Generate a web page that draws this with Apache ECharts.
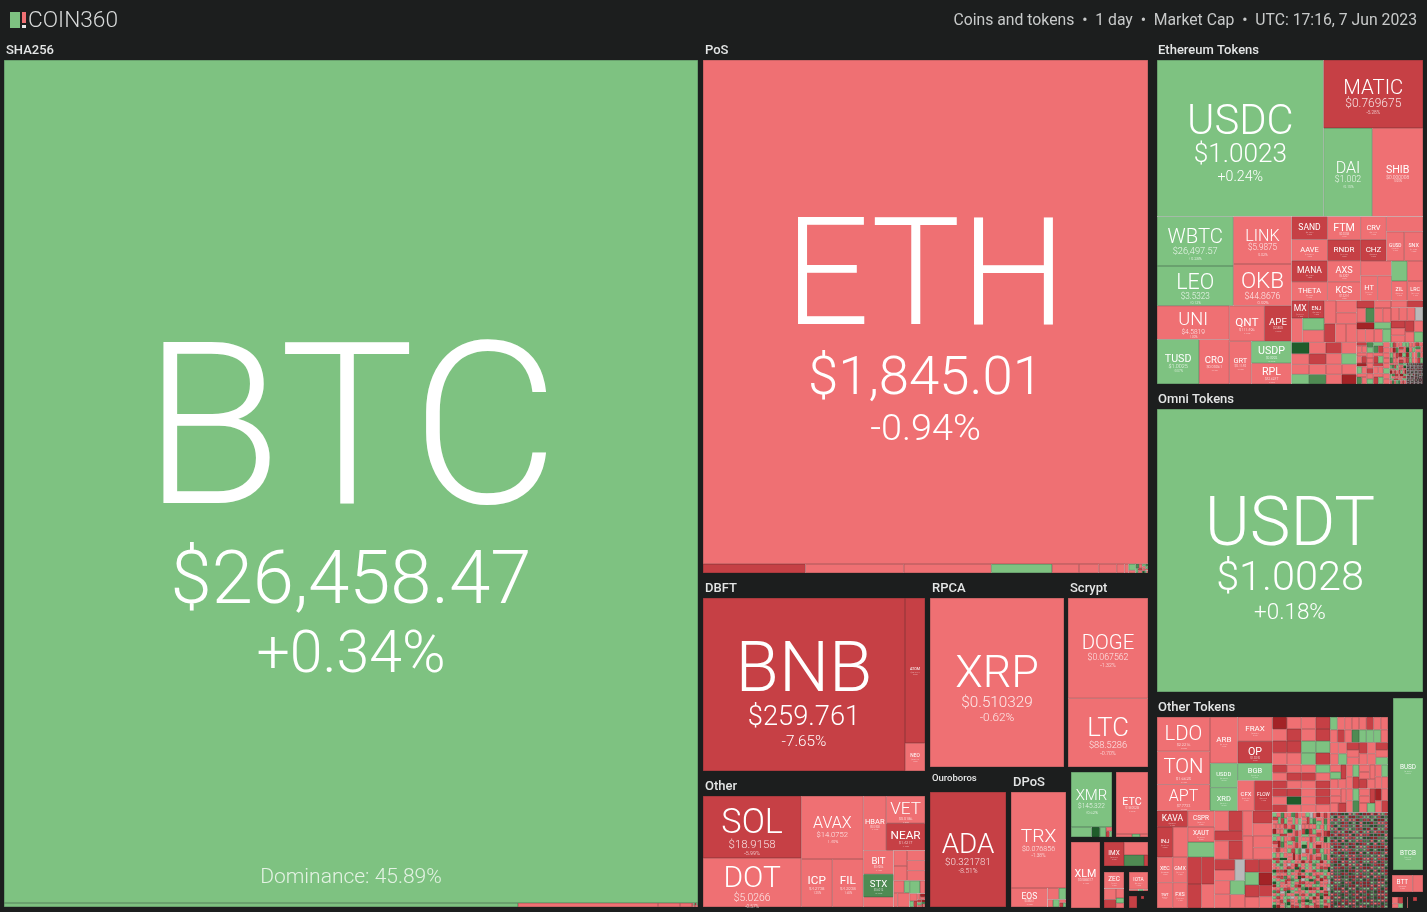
<!DOCTYPE html>
<html><head><meta charset="utf-8">
<style>html,body{margin:0;padding:0;background:#1c1e1e}#c{width:1427px;height:912px}</style>
<script src="https://cdn.jsdelivr.net/npm/echarts@6/dist/echarts.min.js"></script>
</head><body><div id="c"></div><script>
// ---- data: tile weights (market-cap share read from tile areas), prices, % changes ----
const shaNames=['BTC','','','',''];
const shaValues=[585000,2056,560,88,48];
const shaPrices=['$26,458.47','','','',''];
const shaChanges=[0.34,0.8,-1.2,-1.5,-2];
const shaTail='rgrrRgrr';
const posNames=['ETH','','','','','','','','',''];
const posValues=[224280,927,891,792,549,243,180,162,72,36];
const posPrices=['$1,845.01','','','','','','','','',''];
const posChanges=[-0.94,-6.2,-1.4,-1.1,0.6,-1.8,-1.3,-1.2,-1,-1];
const posTailValues=[45,18,14,14,12,10,10,8,8,6,6,6,5,5,4,4];
const posTailCodes='grGrgRrgrGgrHrgr';
const dbftNames=['BNB','ATOM','NEO'];
const dbftValues=[34946,2900,560];
const dbftPrices=['$259.761','$10.1254','$8.9541'];
const dbftChanges=[-7.65,-6.1,-1.6];
const rpcaNames=['XRP'];const rpcaValues=[22780];const rpcaPrices=['$0.510329'];const rpcaChanges=[-0.62];
const scryptNames=['DOGE','LTC'];const scryptValues=[8000,5500];const scryptPrices=['$0.067562','$88.5286'];const scryptChanges=[-1.32,-0.7];
const otherNames=['SOL','DOT','AVAX','ICP','FIL','HBAR','VET','NEAR','BIT','STX','','','','','',''];
const otherValues=[6076,4802,3906,1488,1488,1242,1053,1053,720,690,300,208,198,180,180,182];
const otherPrices=['$18.9158','$5.0266','$14.0752','$4.2738','$4.2938','$0.0498','$0.0186','$1.4217','$0.4906','$0.6012','','','','','',''];
const otherChanges=[-5.99,-0.57,-1.4,-1.3,-1.6,-1.2,-1.8,-5.2,-2.4,6.3,-1.5,-1,-2,-1.2,-1,-1.4];
const otherTailValues=[128,66,56,170,133,64,56,24,22,18,16,14,12,10,8,8,7,6,5];
const otherTailCodes='rgrrgrrgRrDrRgrDGRr';
const adaNames=['ADA'];const adaValues=[8740];const adaPrices=['$0.321781'];const adaChanges=[-8.51];
const dposNames=['TRX','EOS'];const dposValues=[5335,700];const dposPrices=['$0.076856','$0.8961'];const dposChanges=[-1.38,-1.2];
const dposTailValues=[130,84,40,48,22,16,12];
const dposTailCodes='rgrgrRg';
const xmrNames=['XMR'];const xmrValues=[2214];const xmrPrices=['$145.322'];const xmrChanges=[0.62];
const xmrTailValues=[200,80,60,24,20,14];const xmrTailCodes='gHgrRg';
const etcNames=['ETC'];const etcValues=[1984];const etcPrices=['$18.0528'];const etcChanges=[-1.05];
const etcTailValues=[48,24,24];const etcTailCodes='rgr';
const xlmNames=['XLM'];const xlmValues=[1914];const xlmPrices=['$0.088317'];const xlmChanges=[-1.73];
const imxNames=['IMX','','',''];const imxValues=[480,312,220,44];const imxPrices=['$0.8265','','',''];const imxChanges=[-6.4,-1.5,6.1,-6];
const zecNames=['ZEC','','','','',''];const zecValues=[340,133,104,77,42,40];const zecPrices=['$31.8','','','','',''];const zecChanges=[-1.5,-1.2,-6,-1.4,2,-2];
const iotaNames=['IOTA','','',''];const iotaValues=[342,16,8,8];const iotaPrices=['$0.1872','','',''];const iotaChanges=[-1.2,-1,1,-1];
const redANames=[''];const redAValues=[96];const redAPrices=[''];const redAChanges=[-6];
const redBNames=[''];const redBValues=[9];const redBPrices=[''];const redBChanges=[-6];
const ethNames=['USDC','MATIC','DAI','SHIB','WBTC','LEO','LINK','OKB','UNI','TUSD','CRO','QNT','APE','GRT','USDP','RPL','SAND','AAVE','FTM','RNDR','MANA','THETA','AXS','KCS','CRV','CHZ','','GUSD','SNX','','HT','','','','ZIL','LRC','MX','ENJ'];
const ethValues=[26190,6780,4340,4510,3800,3040,2770,2436,2448,1890,1350,1260,972,946,880,840,828,770,770,700,756,684,700,627,600,550,560,520,550,460,425,350,320,320,310,310,300,270];
const ethPrices=['$1.0023','$0.769675','$1.002','$0.000008','$26,497.57','$3.5323','$5.9875','$44.8676','$4.5819','$1.0025','$0.05961','$111.496','$2.850','$0.1149','$0.9992','$42.6247','$0.4957','$70.0522','$0.3958','$2.4297','$0.4265','$0.7661','$6.5297','$7.3214','$0.7221','$0.0921','','$1.0012','$2.3491','','$3.5214','','','','$0.0231','$0.2311','$3.1847','$0.3014'];
const ethChanges=[0.24,-5.28,0.1,-0.95,0.28,0.12,-0.92,-0.59,-1.9,0.07,-1.1,-2.2,-5.3,-1.5,0.05,-1.3,-6.1,-1.8,-1.2,-5.6,-7,-1.4,-2.1,-1.3,-1.7,-6.3,-1.1,-0.4,-1.6,-1.2,-1.5,-1.3,1.1,-1.1,-2,-1.4,-5.4,-5.1];
const ethMidValues=[270,264,264,276,250,230,210,200,200,200,190,190,180,175,170,170,160,175,170,170,165,160,155,150,145];
const ethMidCodes='rgrrrrRrrHrrRrgrGRrrgrrrD';
const ethT1Values=[130,128,125,122,120,118,118,116,115,114,112,112,110,110,108,108,106,105,104,102,100,100,98,96,93];
const ethT1Codes='RrGrrrDrrgrgrrrRrsRrrRrrg';
// small-coin sections: [total weight of the section, one colour code per coin]
const ethT2=[1386,'RrrGgrrRrrgGRrrrRgrrDgrrRrGrrgRrrrgrRgrr'];
const ethT3=[693,'gRrrDGrgRrrgrRGrrDgrRrgrrHrgRrGrrDgrRgrrGrrRg'];
const ethT4=[347,'rgGrRgrDrgRrGrrgHrRgrrDgGrRrgrGRrgrDrgRrGrgRr'];
const ethT5=[346,'DgRHrGRgDrHRgGrDRgHrGDRrgHRGrDgRHgrDGRrHgDRGrgDHRrGgDRHrgGDRrHgRDGrgHDRrGgHRDrgGR'];
const omniNames=['USDT'];const omniValues=[75000];const omniPrices=['$1.0028'];const omniChanges=[0.18];
const otNames=['LDO','TON','APT','ARB','FRAX','OP','USDD','XRD','BGB','CFX','FLOW','KAVA','INJ','','CSPR','XAUT','','XEC','GMX','TWT','FXS','','','',''];
const otValues=[1820,1760,1400,1288,840,770,672,644,600,510,547,496,480,450,432,405,405,400,375,400,375,378,350,336,312];
const otPrices=['$2.2216','$1.6625','$7.7733','$1.1282','$0.9952','$1.3945','$0.9981','$0.0412','$0.5126','$0.1782','$0.6321','$0.8837','$6.0214','','$0.0347','$1,958.2','','$0.0000','$54.231','$0.8512','$7.1204','','','',''];
const otChanges=[-1.8,-1.2,-1.6,-2.1,-0.4,-6.2,0.2,0.9,1.1,-1.5,-5.7,-6.4,-6.8,-1.4,-1.9,-0.3,0.8,-1.6,-1.2,-1.1,-1.7,-6,-5.5,-5.9,-1.2];
const otMidValues=[286,280,280,266,260,253,247,247,247,228,228,216,216,216,216,216,207,200,180,180,180,170,170,160,150,150];
const otMidCodes='rRRrRrRrrrrRrsrrgrRgRDRrRr';
const otA=[2768,'DrrRRrRrrrRRgggR'];
const otB=[2768,'RrRrRrRrRRHrrRrgrRrrrRRr'];
const otC=[2768,'grrRrrrGrrrgRrrrRggrrgrRrrrRrg'];
const otD=[2768,'rgRrrrgrRrrrrRrgrGrrrRrrgrrrrRrgDrrR'];
const otE=[2767,'grRrgGrRgrrDrgrRrgRrGrrgRrrgrRHrrgsRrgrRrDgrGrrRgrRrrgrHrRgrrGrRrgRrrDgGrRrgrrRsrgGrrRHgrrRgrDrrgrRrGrgrrRrgrRDrrgHrRrgrsRrgrrGRrgrrDrHgrrRgrRgrrGr'];
const otF=[2767,'grRgrHrRgGrrgRrDgrrRgHrgrRrGgrRrsgrRgrGrrDgHrRgrrgRrGgrRrHgrRDrgrGrRgrrgRsrGgrRrgHrDrgRgrrGrRgrHrgrRDgrrGrgRsrHgrRrgrGrRgDrrgrHgrRrgGrrgRrDgrsRgrGrrgHrRgrDrrgRGrgrrRgHrRrgrGDrgrRgrrsgGrHrRgrrDgRrGrgrRgHrrgRrGDrgrRgrrHgRrGrgrsRDgrrHgrRgGrrRgrDr'];
const otG=[5530,
'DgRHrGRgDrHRgGrDRgHrGDRrgHRGrDgRHgrDGRrHgDRGrgDHRrGgDRHrgGDRrHgR'+
'GDHrRgRDGHgrRDHGrgDRHrGRgDrHgGRDrHRgGrDHRGgrRDHgrGRDgHRrGDgHrRGD'+
'HRDgGrRHDgrGRHgDrRGHDrgRGDHgrRGHDgrRHGDrgHRGDrgRHDGgrHRDGgrRDHGr'+
'gRHGDrRgHGDrgRHDGrgHRDGrRgHDGrgRDHGgrRHDGrgHRDGrgRHDGgrRHGDrgRHD'+
'RGDHgrRGHDrgRGDHrgGRHDrgGRDHrgGHRDgrGHRDrgGRHDgrRGHDgrHRGDgrRHGD'+
'gGRDHrgRGDHrgGRHDrgGRDHgrGHRDrgRGHDgrRHGDrgHGRDrgRHGDgrHGRDgrRHG'+
'DrgHRGDrgHRGDgrHRDGrgRHDGgrHRDGgrRHDGrgHRDGgrRHDGrgRHGDrgHRGDrgH'+
'RGDgrHRGDgrRHDGgrHRDGrgRHDGrgHRGDgrRHGDrgHGRDrgRHGDgrHRGDrgRHDGg'];
const busdNames=['BUSD','BTCB'];const busdValues=[4200,960];const busdPrices=['$1.0034','$26,512'];const busdChanges=[0.05,0.31];
const bttNames=['BTT',''];const bttValues=[340,170];const bttPrices=['$0.0000',''];const bttChanges=[-1.6,-1.3];
const tinyValues=[40,32,28,20];const tinyCodes='rRrg';
const tinyBValues=[16];const tinyBCodes='R';
const tinyCValues=[2];const tinyCCodes='r';
const headerLeft='COIN360';
const headerRight='Coins and tokens  •  1 day  •  Market Cap  •  UTC: 17:16, 7 Jun 2023';
const dominance='Dominance: 45.89%';

// ---- styles ----
const fills={r:'#EF7073',R:'#C64045',D:'#A32326',g:'#7EC281',G:'#4F8B53',H:'#1F5C2B',s:'#B9B9B9'};
const edges={r:'#A8585A',R:'#8E3538',D:'#7A2426',g:'#55805A',G:'#3F6A44',H:'#1C4526',s:'#808080'};
const fineEdge='#4A3C3F',fineEdgeWidth=0.65;
const labelFonts={BTC:[212,68,50],ETH:[140,50,32],USDT:[64,38,19],BNB:[66,25,13],XRP:[42,14,10],DOGE:[19,8,4.5],LTC:[24,8.5,4.5],
SOL:[32,10.5,4.5],DOT:[28,9.5,4],AVAX:[15,7,3.5],ICP:[11,4,2.5],FIL:[11,4,2.5],HBAR:[7,2.5,2],VET:[16,3.5,2],NEAR:[11,3.5,2],BIT:[9,2.5,2],STX:[9,2.5,2],
ATOM:[3.5,2,1.5],NEO:[4.5,2,1.5],ADA:[26,9,5.5],TRX:[18,6.5,4],EOS:[8,2.5,2],XMR:[14,6,3.5],ETC:[10,3,2],XLM:[10,3,2],IMX:[6,2,1.5],ZEC:[6,2,1.5],IOTA:[4.5,2,1.5],
USDC:[39,24,12],MATIC:[19,11,4],DAI:[15,8,3],SHIB:[10,4.5,2.5],WBTC:[19,8.5,3.5],LEO:[20,7.5,3],LINK:[15,7.5,3],OKB:[21,8,3.5],UNI:[17,6,2.5],TUSD:[10,5,2.5],CRO:[9,3.5,2],QNT:[11,3.5,2],APE:[9,3,2],GRT:[7,3,2],USDP:[10,3,2],RPL:[10,3,2],
SAND:[8,2,1.5],AAVE:[7,2,1.5],FTM:[10,2.5,1.5],RNDR:[7.5,2,1.5],MANA:[8,2,1.5],THETA:[7,2,1.5],AXS:[8.5,2.5,1.5],KCS:[8.5,2.5,1.5],CRV:[7,2,1.5],CHZ:[7.5,2,1.5],GUSD:[4.5,2,1.5],SNX:[5,2,1.5],HT:[7,2,1.5],ZIL:[5,2,1.5],LRC:[5,2,1.5],MX:[8,2,1.5],ENJ:[5,2,1.5],
LDO:[19,3.5,2],TON:[19,4,2],APT:[15,3.5,2],ARB:[7.5,2,1.5],FRAX:[7.5,2,1.5],OP:[10,2.5,1.5],USDD:[5.5,2,1.5],XRD:[7,2,1.5],BGB:[7,2,1.5],CFX:[5.5,2,1.5],FLOW:[4.5,2,1.5],KAVA:[8,2,1.5],CSPR:[6,2,1.5],INJ:[5.5,2,1.5],XAUT:[6,2,1.5],XEC:[5,2,1.5],GMX:[5,2,1.5],TWT:[3.5,1.5,1],FXS:[5,2,1.5],
BUSD:[6,2,1.5],BTCB:[6,2,1.5],BTT:[6,2,1.5]};
const nameScale=1.07,priceScale=1.09,changeScale=1.18;
function codeOf(ch){return ch===0?'s':ch>=10?'H':ch>=5?'G':ch>0?'g':ch>-5?'r':ch>-10?'R':'D';}
function styleOf(code){return {color:fills[code],borderColor:edges[code],borderWidth:0.5};}
function pct(ch){return (ch>0?'+':'')+ch.toFixed(2)+'%';}
function labelOf(name,price,ch){
  const f=labelFonts[name];
  if(!f) return {show:false};
  const a=f[0]*nameScale,b=f[1]*priceScale,c=f[2]*changeScale;
  const sh=Math.max(0.4,a*0.02), col='rgba(0,0,0,0.3)';
  const w=a<14?400:300, dim=b<16?'rgba(255,255,255,0.85)':'#fff';
  return {show:true,position:'inside',overflow:'none',padding:0,
    stackHeight:a*0.87+b*1.05+c*1.15,nudge:0.165*a,
    formatter:'{n|'+name+'}\n{p|'+price+'}\n{c|'+pct(ch)+'}',
    rich:{
      n:{fontSize:a,lineHeight:a*0.87,fontWeight:w,fontFamily:'Roboto',color:'#fff',textShadowColor:col,textShadowOffsetX:sh,textShadowOffsetY:sh,textShadowBlur:0,align:'center'},
      p:{fontSize:b,lineHeight:b*1.05,fontWeight:300,fontFamily:'Roboto',color:dim,align:'center'},
      c:{fontSize:c,lineHeight:c*1.15,fontWeight:300,fontFamily:'Roboto',color:dim,align:'center'}
    }};
}
function named(names,values,prices,changes){
  return names.map((n,i)=>({name:n,value:values[i],itemStyle:styleOf(codeOf(changes[i])),label:labelOf(n,prices[i],changes[i])}));
}
function plain(values,codes){return values.map((v,i)=>({name:'',value:v,itemStyle:styleOf(codes[i]),label:{show:false}}));}
function flat(value,codes){return plain(Array.from(codes,()=>value),codes);}
function section(s){return flat(s[0]/s[1].length,s[1]);}
function fineSection(s){
  const list=section(s);
  list.forEach(d=>{d.itemStyle.borderColor=fineEdge;d.itemStyle.borderWidth=fineEdgeWidth;});
  return list;
}
// split a value-ordered list in two nearly equal halves, recursively; the treemap then
// cuts each node across its longer side. w/h follow the same cuts, only to centre each label.
function binary(list,w,h){
  if(list.length===1){
    const l=list[0].label;
    if(l.show){l.offset=[0,(h-l.stackHeight)/2+l.nudge];delete l.stackHeight;delete l.nudge;}
    return list[0];
  }
  const sums=[0];list.forEach(d=>sums.push(sums[sums.length-1]+d.value));
  const total=sums[list.length],target=total/2;
  let k=1,hi=list.length-1;
  while(k<hi){const m=(k+hi)>>>1;if(sums[m]<target)k=m+1;else hi=m;}
  if(target-sums[k-1]<sums[k]-target&&k>1)k--;
  const share=sums[k]/total;
  const first=w>h?binary(list.slice(0,k),w*share,h):binary(list.slice(0,k),w,h*share);
  const second=w>h?binary(list.slice(k),w*(1-share),h):binary(list.slice(k),w,h*(1-share));
  return {name:'',children:[first,second]};
}
function block(box,list){
  const root=binary(list,box[2]-box[0],box[3]-box[1]);
  return {type:'treemap',left:box[0],top:box[1],width:box[2]-box[0],height:box[3]-box[1],
    squareRatio:1e-6,sort:false,visibleMin:0,roam:false,nodeClick:false,animation:false,silent:true,
    breadcrumb:{show:false},label:{show:false},upperLabel:{show:false},
    itemStyle:{borderWidth:0,gapWidth:0},
    data:root.children?root.children:[root]};
}
const series=[
 block([4,60,698,907],named(shaNames,shaValues,shaPrices,shaChanges).concat(flat(3,shaTail))),
 block([703,60,1148,573],named(posNames,posValues,posPrices,posChanges).concat(plain(posTailValues,posTailCodes))),
 block([703,598,925,771],named(dbftNames,dbftValues,dbftPrices,dbftChanges)),
 block([930,598,1064,767],named(rpcaNames,rpcaValues,rpcaPrices,rpcaChanges)),
 block([1068,598,1148,767],named(scryptNames,scryptValues,scryptPrices,scryptChanges)),
 block([703,796,925,907],named(otherNames,otherValues,otherPrices,otherChanges).concat(plain(otherTailValues,otherTailCodes))),
 block([930,792,1006,907],named(adaNames,adaValues,adaPrices,adaChanges)),
 block([1011,792,1066,907],named(dposNames,dposValues,dposPrices,dposChanges).concat(plain(dposTailValues,dposTailCodes))),
 block([1071,772,1112,837],named(xmrNames,xmrValues,xmrPrices,xmrChanges).concat(plain(xmrTailValues,xmrTailCodes))),
 block([1116,772,1148,837],named(etcNames,etcValues,etcPrices,etcChanges).concat(plain(etcTailValues,etcTailCodes))),
 block([1071,842,1100,908],named(xlmNames,xlmValues,xlmPrices,xlmChanges)),
 block([1104,842,1148,866],named(imxNames,imxValues,imxPrices,imxChanges)),
 block([1104,872,1124,908],named(zecNames,zecValues,zecPrices,zecChanges)),
 block([1129,872,1148,891],named(iotaNames,iotaValues,iotaPrices,iotaChanges)),
 block([1129,896,1137,908],named(redANames,redAValues,redAPrices,redAChanges)),
 block([1141,896,1144,899],named(redBNames,redBValues,redBPrices,redBChanges)),
 block([1157,60,1423,384],named(ethNames,ethValues,ethPrices,ethChanges)
   .concat(plain(ethMidValues,ethMidCodes),plain(ethT1Values,ethT1Codes),section(ethT2),section(ethT3),section(ethT4),fineSection(ethT5))),
 block([1157,409,1423,692],named(omniNames,omniValues,omniPrices,omniChanges)),
 block([1157,717,1388,908],named(otNames,otValues,otPrices,otChanges)
   .concat(plain(otMidValues,otMidCodes),section(otA),section(otB),section(otC),section(otD),section(otE),section(otF),fineSection(otG))),
 block([1393,698,1423,870],named(busdNames,busdValues,busdPrices,busdChanges)),
 block([1392,875,1423,892],named(bttNames,bttValues,bttPrices,bttChanges)),
 block([1392,897,1403,908],plain(tinyValues,tinyCodes)),
 block([1413,897,1417,901],plain(tinyBValues,tinyBCodes)),
 block([1407,897,1408,908],plain(tinyCValues,tinyCCodes))
];
const headings=[['SHA256',6,51],['PoS',705,51],['Ethereum Tokens',1158,51],['Omni Tokens',1158,400],['DBFT',705,589],['RPCA',932,589],['Scrypt',1070,589],['Other',705,787],['DPoS',1013,783],['Other Tokens',1158,708]];
const titles=headings.map(h=>({text:h[0],left:h[1],top:h[2]-7,padding:0,textStyle:{color:'#e4e6e6',fontSize:13,fontWeight:500,fontFamily:'Roboto'}}));
titles.push({text:'Ouroboros',left:932,top:774,padding:0,textStyle:{color:'#e4e6e6',fontSize:9.5,fontWeight:500,fontFamily:'Roboto'}});
titles.push({text:headerLeft,left:28,top:10,padding:0,textStyle:{color:'#d8dada',fontSize:22.7,fontWeight:300,fontFamily:'Roboto'}});
titles.push({text:headerRight,right:10,top:13,padding:0,textStyle:{color:'#c8caca',fontSize:15.75,fontWeight:400,fontFamily:'Roboto'}});
titles.push({text:dominance,left:351,top:867,textAlign:'center',padding:0,textStyle:{color:'#e3f2e3',fontSize:21,fontWeight:300,fontFamily:'Roboto'},z:10});
const chart=echarts.init(document.getElementById('c'),null,{renderer:'canvas'});
chart.setOption({backgroundColor:'#1c1e1e',animation:false,title:titles,
 graphic:[
  {type:'rect',shape:{x:10,y:12,width:10,height:16},style:{fill:fills.g}},
  {type:'rect',shape:{x:22,y:12,width:4,height:11},style:{fill:fills.r}},
  {type:'rect',shape:{x:22,y:25,width:4,height:3},style:{fill:'#e8e8e8'}}
 ],
 series});
</script></body></html>
